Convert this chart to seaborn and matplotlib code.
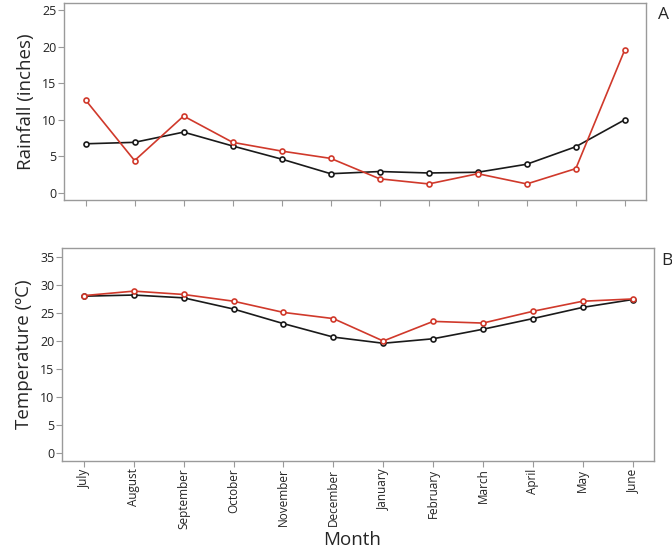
import matplotlib
matplotlib.use("Agg")
import matplotlib.pyplot as plt
import seaborn as sns
import pandas as pd

months = ["July", "August", "September", "October", "November", "December",
          "January", "February", "March", "April", "May", "June"]
rain_black = [6.7, 6.9, 8.3, 6.4, 4.6, 2.6, 2.9, 2.7, 2.8, 3.9, 6.3, 10.0]
rain_red = [12.7, 4.4, 10.5, 6.9, 5.7, 4.7, 1.9, 1.2, 2.6, 1.2, 3.3, 19.6]
temp_black = [28.0, 28.2, 27.7, 25.7, 23.1, 20.7, 19.6, 20.4, 22.1, 24.0, 26.0, 27.4]
temp_red = [28.1, 28.9, 28.3, 27.1, 25.1, 24.0, 20.0, 23.5, 23.2, 25.3, 27.1, 27.5]

sns.set_style("white")
plt.rcParams['font.family'] = ['Open Sans', 'DejaVu Sans']

BLACK = "#1a1a1a"
RED = "#d0392b"
GRAY = "#9a9a9a"

def long_df(black, red):
    return pd.DataFrame({
        "Month": list(range(len(months))) * 2,
        "value": black + red,
        "series": ["black"] * len(months) + ["red"] * len(months),
    })

fig = plt.figure(figsize=(6.72, 5.52), dpi=100)
ax1 = fig.add_axes([0.0952, 0.6377, 0.866, 0.357])
ax2 = fig.add_axes([0.0923, 0.1649, 0.881, 0.3859])

for ax, black, red in [(ax1, rain_black, rain_red), (ax2, temp_black, temp_red)]:
    df = long_df(black, red)
    sns.lineplot(data=df, x="Month", y="value", hue="series",
                 palette={"black": BLACK, "red": RED}, hue_order=["black", "red"],
                 marker="o", markersize=3.6, markerfacecolor="white",
                 markeredgewidth=1.2, linewidth=1.2, legend=False, ax=ax,
                 sort=False)
    for line in ax.lines:
        line.set_markeredgecolor(line.get_color())
    ax.set_xlim(-0.44, 11.43)
    for s in ax.spines.values():
        s.set_visible(True)
        s.set_color(GRAY)
        s.set_linewidth(1.0)
    ax.tick_params(axis="both", which="major", length=4, width=0.8, color=GRAY,
                   labelsize=9, labelcolor="#222222", pad=1.5,
                   bottom=True, left=True)
    ax.set_xticks(range(len(months)))

ax1.set_ylim(-1, 26)
ax1.set_yticks([0, 5, 10, 15, 20, 25])
ax1.set_xticklabels([])
ax1.set_xlabel("")
ax1.set_ylabel("Rainfall (inches)", fontsize=13.5, labelpad=5)

ax2.set_ylim(-1.4, 36.6)
ax2.set_yticks([0, 5, 10, 15, 20, 25, 30, 35])
ax2.set_xticklabels(months, rotation=90, fontsize=8.5)
ax2.set_xlabel("")
ax2.set_ylabel("Temperature (ºC)", fontsize=13.5, labelpad=5)

fig.text(352 / 672, 1 - 540 / 552, "Month", fontsize=13.5, ha="center", va="center")
fig.text(0.987, 0.972, "A", fontsize=12.5, ha="center", va="center")
fig.text(0.993, 0.528, "B", fontsize=12.5, ha="center", va="center")

fig.savefig("out.png", dpi=100)
